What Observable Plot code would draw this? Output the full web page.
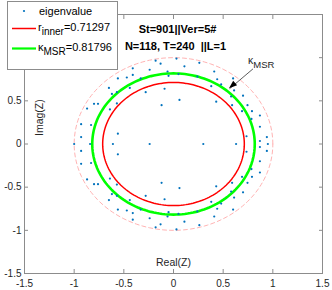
<!DOCTYPE html>
<html><head><meta charset="utf-8">
<script src="https://cdn.jsdelivr.net/npm/d3@7"></script>
<script src="https://cdn.jsdelivr.net/npm/@observablehq/plot@0.6"></script>
<style>
body{margin:0;background:#fff;}
#chart{position:relative;width:332px;height:290px;}
#chart svg{display:block;}
</style>
</head><body><div id="chart"></div>
<script>
// eigenvalues (real part, imaginary part)
const eigRe = [
  -0.18,-0.13,-0.41,-0.24,-0.06,-0.05,-0.47,-0.56,-0.41,-0.33,-0.65,-0.57,-0.62,-0.44,-0.28,-0.09,-0.80,-0.76,-0.87,-0.57,-0.64,-0.12,-0.93,-0.83,-0.56,-0.93,
  0.03,0.11,0.26,0.05,0.24,0.41,0.44,0.38,0.48,0.60,0.61,0.58,0.70,0.59,0.43,0.06,0.745,0.69,0.79,0.87,0.785,0.87,0.94,0.87,0.735,
  -0.18,-0.13,-0.41,-0.24,-0.06,-0.05,-0.47,-0.56,-0.41,-0.33,-0.65,-0.57,-0.62,-0.44,-0.28,-0.09,-0.80,-0.76,-0.87,-0.57,-0.64,-0.12,-0.93,-0.83,-0.56,-0.93,
  0.03,0.11,0.26,0.05,0.24,0.41,0.44,0.38,0.48,0.60,0.61,0.58,0.70,0.59,0.43,0.06,0.745,0.69,0.79,0.87,0.785,0.87,0.94,0.87,0.735,
  -1.0,-0.84,-0.61,-0.24,0.30,0.63,0.95
];
const eigIm = [
  0.965,0.93,0.876,0.86,0.84,0.79,0.77,0.76,0.80,0.76,0.65,0.60,0.58,0.65,0.60,0.64,0.465,0.465,0.41,0.47,0.40,0.45,0.23,0.22,0.12,0.08,
  0.99,0.90,0.94,0.81,0.78,0.84,0.75,0.67,0.69,0.76,0.62,0.55,0.56,0.45,0.49,0.51,0.45,0.38,0.38,0.33,0.29,0.20,0.08,0.035,0.09,
  -0.965,-0.93,-0.876,-0.86,-0.84,-0.79,-0.77,-0.76,-0.80,-0.76,-0.65,-0.60,-0.58,-0.65,-0.60,-0.64,-0.465,-0.465,-0.41,-0.47,-0.40,-0.45,-0.23,-0.22,-0.12,-0.08,
  -0.99,-0.90,-0.94,-0.81,-0.78,-0.84,-0.75,-0.67,-0.69,-0.76,-0.62,-0.55,-0.56,-0.45,-0.49,-0.51,-0.45,-0.38,-0.38,-0.33,-0.29,-0.20,-0.08,-0.035,-0.09,
  0,0,0,0,0,0,0
];
const rInner = 0.71297;
const kappaMSR = 0.81796;
const rUnit = 1;
const xTicks = [-1.5,-1,-0.5,0,0.5,1,1.5];
const yTicks = [-1.5,-1,-0.5,0,0.5,1,1.5];
const titleLines = ["St=901||Ver=5#", "N=118, T=240  ||L=1"];
const arrowFrom = [0.80, 0.87];   // arrow tail (data units)
const arrowTo = [0.564, 0.64];    // arrow head (data units)

const points = eigRe.map((x,i)=>({x, y: eigIm[i]}));
const ring = r => d3.range(0, 361, 2).map(a => ({x: r*Math.cos(a*Math.PI/180), y: r*Math.sin(a*Math.PI/180)}));
const arrowData = [{x1: arrowFrom[0], y1: arrowFrom[1], x2: arrowTo[0], y2: arrowTo[1]}];

const fmt = d => String(d);
const plot = Plot.plot({
  width: 332, height: 290,
  marginLeft: 24, marginRight: 10, marginTop: 14, marginBottom: 17,
  x: {domain: [-1.5, 1.5]},
  y: {domain: [-1.5, 1.5]},
  style: {fontFamily: "'Liberation Sans', Arial, sans-serif", fontSize: "10px", color: "#262626", background: "white", overflow: "visible"},
  marks: [
    Plot.line(ring(rUnit), {x: "x", y: "y", stroke: "#ffb3b3", strokeWidth: 1, strokeDasharray: "4,3"}),
    Plot.line(ring(rInner), {x: "x", y: "y", stroke: "#ff0000", strokeWidth: 1.5}),
    Plot.line(ring(kappaMSR), {x: "x", y: "y", stroke: "#00ff00", strokeWidth: 2.6}),
    Plot.dot(points, {x: "x", y: "y", r: 1.1, fill: "#0072bd", stroke: null}),
    Plot.link(arrowData, {x1: "x1", y1: "y1", x2: "x2", y2: "y2", stroke: "#333", strokeWidth: 0.8}),
    Plot.frame({stroke: "#8c8c8c", strokeWidth: 1}),
    Plot.axisX({ticks: xTicks, tickFormat: fmt, anchor: "bottom", tickSize: -4, tickPadding: 10, label: null, stroke: "#8c8c8c", color: "#262626"}),
    Plot.axisX({ticks: xTicks, anchor: "top", tickSize: -4, label: null, text: null, stroke: "#8c8c8c"}),
    Plot.axisY({ticks: yTicks, tickFormat: fmt, anchor: "left", tickSize: -4, tickPadding: 7, label: null, stroke: "#8c8c8c"}),
    Plot.axisY({ticks: yTicks, anchor: "right", tickSize: -4, label: null, text: null, stroke: "#8c8c8c"}),
    Plot.text(["Real(Z)"], {frameAnchor: "bottom", dy: -8, fontSize: 10.5, fill: "#262626"}),
    Plot.text(["Imag(Z)"], {frameAnchor: "left", dx: 15, dy: -8, rotate: -90, fontSize: 10.5, fill: "#262626"}),
    Plot.text([titleLines[0]], {frameAnchor: "top", dy: 11, dx: 4, fontWeight: "bold", fontSize: 11, fill: "#000"}),
    Plot.text([titleLines[1]], {frameAnchor: "top", dy: 28, dx: 2, fontWeight: "bold", fontSize: 11, fill: "#000"})
  ]
});
document.getElementById("chart").appendChild(plot);

const svg = d3.select(plot);
const FF = "'Liberation Sans', Arial, sans-serif";
// filled arrow head at the tip of the κ_MSR pointer
const sx = plot.scale("x"), sy = plot.scale("y");
const tx = sx.apply(arrowTo[0]), ty = sy.apply(arrowTo[1]);
const fx = sx.apply(arrowFrom[0]), fy = sy.apply(arrowFrom[1]);
const ang = Math.atan2(ty - fy, tx - fx), hl = 8, hw = 3;
const bx = tx - hl*Math.cos(ang), by = ty - hl*Math.sin(ang);
svg.append("path")
  .attr("d", `M${tx},${ty}L${bx + hw*Math.sin(ang)},${by - hw*Math.cos(ang)}L${bx - hw*Math.sin(ang)},${by + hw*Math.cos(ang)}Z`)
  .attr("fill", "#000");
// κ_MSR annotation text
const ann = svg.append("text").attr("x", 248).attr("y", 64).attr("font-size", 10.5).attr("fill", "#262626")
  .attr("font-family", FF).attr("text-anchor", "start");
ann.append("tspan").text("κ");
ann.append("tspan").attr("dy", 4).attr("font-size", 9.5).text("MSR");

// legend
const lg = svg.append("g").attr("font-family", FF).attr("fill", "#000").attr("text-anchor", "start");
lg.append("rect").attr("x", 7.5).attr("y", 1.5).attr("width", 110).attr("height", 68).attr("fill", "white").attr("stroke", "#8c8c8c");
lg.append("circle").attr("cx", 24).attr("cy", 11).attr("r", 1.1).attr("fill", "#0072bd");
lg.append("text").attr("x", 39).attr("y", 15).attr("font-size", 11).text("eigenvalue");
lg.append("line").attr("x1", 12).attr("x2", 36).attr("y1", 28.5).attr("y2", 28.5).attr("stroke", "#ff0000").attr("stroke-width", 1.5);
const t1 = lg.append("text").attr("x", 38).attr("y", 31).attr("font-size", 11);
t1.append("tspan").text("r");
t1.append("tspan").attr("dy", 4).attr("font-size", 10).text("inner");
t1.append("tspan").attr("dy", -4).text("=" + rInner);
lg.append("line").attr("x1", 12).attr("x2", 36).attr("y1", 48.5).attr("y2", 48.5).attr("stroke", "#00ff00").attr("stroke-width", 2.2);
const t2 = lg.append("text").attr("x", 38).attr("y", 51).attr("font-size", 11);
t2.append("tspan").text("κ");
t2.append("tspan").attr("dy", 4).attr("font-size", 10).text("MSR");
t2.append("tspan").attr("dy", -4).text("=" + kappaMSR);
</script>
</body></html>
